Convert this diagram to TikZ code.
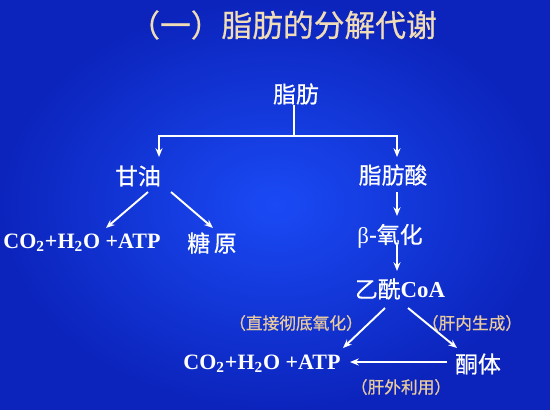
\documentclass[tikz,border=0pt]{standalone}
\usepackage{fontspec}
\usepackage{tikz}
\usetikzlibrary{arrows.meta,calc}
\setmainfont{Liberation Serif}
\newfontfamily\cjk[FakeBold=0.6]{Noto Sans CJK SC}
\definecolor{bgin}{RGB}{26,74,245}
\definecolor{bgout}{RGB}{12,36,188}
\definecolor{titlecol}{RGB}{240,220,182}
\definecolor{notecol}{RGB}{232,202,158}

\begin{document}
\begin{tikzpicture}[x=0.02cm,y=-0.02cm,
		word/.style={text=white,inner sep=1pt,font=\cjk\fontsize{13}{15}\selectfont},
		chem/.style={text=white,inner sep=1pt,font=\bfseries\fontsize{12.5}{15}\selectfont},
		note/.style={text=notecol,inner sep=1pt,font=\cjk\fontsize{9.5}{12}\selectfont},
		link/.style={white,line width=1.1pt},
		arr/.style={link,-{Stealth[length=5pt,width=4pt]}}]
			\shade[inner color=bgin,outer color=bgout] (0,0) rectangle (550,409);
			\useasboundingbox (0,0) rectangle (550,409);
			\node[text=titlecol,font=\cjk\fontsize{17.5}{20}\selectfont] (title) at (283,25) {（一）脂肪的分解代谢};
			\node[word] (fat) at (296,94) {脂肪};
			\node[word] (glycerol) at (138,176) {甘油};
			\node[word] (fa) at (393,175) {脂肪酸};
			\node[chem] (co2a) at (82,243) {CO\textsubscript{2}+H\textsubscript{2}O +ATP};
			\node[word] (glycogen) at (212,243) {糖\,原};
			\node[word] (beta) at (390,236) {{\rmfamily β}-\cjk 氧化};
			\node[word] (acoa) at (400,289) {乙酰\bfseries\rmfamily CoA};
			\node[chem] (co2b) at (262,364) {CO\textsubscript{2}+H\textsubscript{2}O +ATP};
			\node[word] (ketone) at (478,364) {酮体};
			\node[note] (direct) at (296,323) {（直接彻底氧化）};
			\node[note] (liver) at (472,323) {（肝内生成）};
			\node[note] (outside) at (401,387) {（肝外利用）};
			\coordinate (split) at ($(fat)+(-2,42)$);
			\draw[link] ($(fat)+(-2,11)$) -- (split);
			\draw[arr] (split) -| ($(glycerol)+(21,-19)$);
			\draw[arr] (split) -| ($(fa)+(4,-18)$);
			\draw[arr] ($(glycerol)+(10,16)$) -- ($(co2a)+(24,-15)$);
			\draw[arr] ($(glycerol)+(33,16)$) -- ($(glycogen)+(1,-15)$);
			\draw[arr] ($(fa)+(4,17)$) -- ($(beta)+(7,-20)$);
			\draw[arr] ($(beta)+(7,9)$) -- ($(acoa)+(-3,-18)$);
			\draw[arr] ($(acoa)+(-15,19)$) -- ($(co2b)+(81,-16)$);
			\draw[arr] ($(acoa)+(8,19)$) -- ($(ketone)+(-21,-16)$);
			\draw[arr] ($(ketone)+(-31,-2)$) -- ($(co2b)+(88,-2)$);
		\end{tikzpicture}
\end{document}
